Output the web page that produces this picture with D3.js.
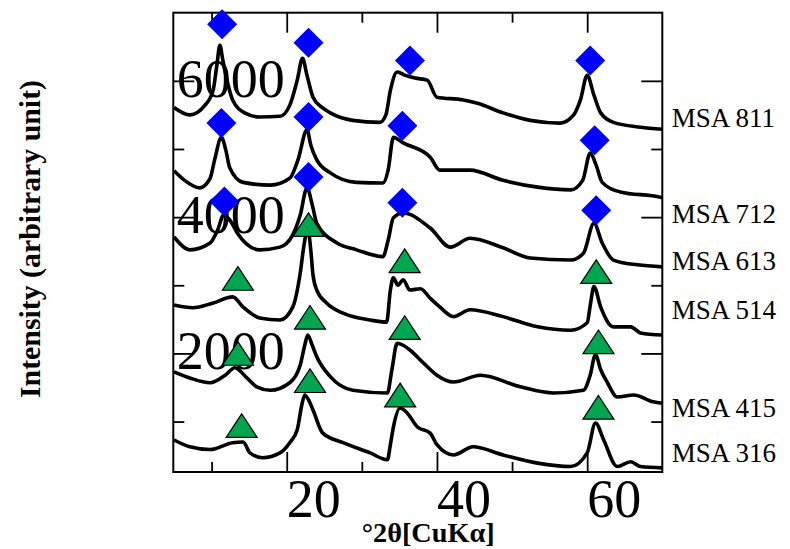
<!DOCTYPE html>
<html>
<head>
<meta charset="utf-8">
<script src="https://cdn.jsdelivr.net/npm/d3@7.9.0/dist/d3.min.js"></script>
<style>
  body { margin: 0; background: #fff; }
  svg { display: block; font-family: "Liberation Serif", "Times New Roman", serif; }
</style>
</head>
<body>
<svg id="chart" width="790" height="549"></svg>
<script>
// XRD patterns, 2θ (deg) vs intensity, stacked as in the figure
const samples = ['MSA 811', 'MSA 712', 'MSA 613', 'MSA 514', 'MSA 415', 'MSA 316'];

const msa811 = [[5.0,5610],[7.1,5500],[9.1,5640],[10.2,5860],[10.7,6230],[11.1,6520],[11.5,6300],[12.2,5940],[12.8,5720],[14.4,5530],[16.4,5470],[19.1,5480],[20.4,5640],[21.4,6010],[22.1,6330],[22.7,6080],[23.5,5760],[24.7,5610],[25.8,5530],[28.8,5420],[32.4,5390],[33.2,5500],[33.8,5860],[34.7,6130],[35.8,6080],[37.1,6040],[38.7,6010],[40.0,5760],[43.5,5720],[45.4,5670],[48.8,5530],[52.4,5420],[56.4,5380],[58.2,5500],[59.1,5720],[60.0,6080],[60.9,5790],[61.8,5530],[63.5,5390],[67.1,5320],[70.0,5290]];
const msa712 = [[5.0,4680],[6.4,4540],[8.4,4430],[9.8,4570],[10.4,4840],[11.3,5170],[11.9,4980],[12.4,4730],[14.2,4510],[17.8,4470],[20.4,4570],[21.5,4840],[22.7,5280],[23.2,5060],[24.0,4840],[25.8,4650],[29.3,4510],[32.8,4500],[33.5,4690],[34.2,5170],[35.5,5090],[39.1,4880],[40.4,4690],[44.4,4690],[48.8,4540],[53.4,4440],[57.8,4400],[59.4,4540],[60.4,4940],[61.2,4760],[62.0,4510],[64.4,4370],[69.8,4290],[70.0,4280]];
const msa613 = [[5.0,3710],[7.1,3520],[9.8,3620],[10.8,3810],[11.6,4030],[12.6,3930],[13.4,3770],[16.4,3520],[19.1,3560],[20.8,3740],[21.8,4030],[22.7,4430],[23.4,4180],[24.0,3910],[26.7,3620],[29.3,3520],[32.8,3420],[33.5,3660],[34.2,3990],[35.5,4060],[39.1,3840],[41.8,3560],[44.4,3690],[48.8,3550],[52.4,3400],[57.8,3370],[59.5,3470],[60.9,3910],[62.0,3620],[63.5,3370],[66.7,3300],[70.0,3270]];
const msa514 = [[5.0,2710],[7.5,2670],[10.2,2740],[12.8,2830],[14.2,2680],[16.4,2520],[19.1,2490],[20.8,2680],[21.8,3180],[22.3,3590],[22.8,3840],[23.2,3520],[23.5,3150],[24.0,2930],[25.3,2740],[27.5,2590],[31.1,2490],[33.3,2460],[33.8,2930],[34.2,3110],[34.8,3000],[35.5,3080],[36.4,2930],[37.8,2950],[39.1,2810],[40.4,2680],[42.2,2540],[44.4,2640],[48.8,2540],[53.4,2390],[57.8,2340],[60.0,2450],[60.4,2700],[60.9,2980],[61.8,2680],[63.5,2390],[65.8,2390],[67.1,2300],[70.0,2270]];
const msa415 = [[5.0,1730],[7.1,1640],[9.8,1570],[11.8,1680],[13.1,1790],[14.7,1640],[16.0,1510],[17.8,1460],[20.4,1570],[21.8,1830],[22.4,2120],[22.8,2270],[23.4,2120],[24.0,1950],[25.8,1660],[28.8,1460],[33.4,1420],[34.0,1760],[34.7,2150],[35.5,2120],[36.4,2050],[38.2,1860],[40.0,1680],[42.2,1580],[45.8,1680],[51.1,1510],[55.5,1420],[59.5,1460],[60.4,1680],[61.1,1980],[61.8,1760],[62.7,1570],[64.0,1360],[66.2,1390],[68.8,1290],[70.0,1270]];
const msa316 = [[5.0,730],[7.1,630],[9.8,590],[12.8,690],[14.2,700],[15.1,540],[16.8,470],[19.1,540],[20.4,690],[21.4,880],[22.0,1240],[22.4,1390],[22.9,1320],[23.5,1170],[24.8,830],[27.5,690],[31.1,540],[33.4,440],[33.8,660],[34.2,920],[35.1,1200],[36.0,1130],[37.4,920],[39.1,830],[40.0,660],[42.2,510],[44.8,630],[48.8,510],[53.4,390],[57.8,340],[60.0,540],[61.1,980],[62.2,730],[64.0,340],[65.8,410],[67.1,340],[70.0,320]];
const patterns = [msa811, msa712, msa613, msa514, msa415, msa316];

// where the sample names sit (intensity level of each label's baseline)
const labelLevels = [5320, 3910, 3220, 2510, 1070, 410];

// reflection markers [2θ, intensity]
const diamonds = [[11.4,6830],[22.9,6560],[36.4,6300],[60.4,6300],
                  [11.3,5380],[22.9,5470],[35.4,5340],[61.0,5130],
                  [11.7,4230],[22.9,4590],[35.4,4210],[61.2,4100]];
const triangles = [[13.5,3100],[22.9,3890],[35.7,3360],[61.2,3200],
                   [13.5,2000],[23.1,2530],[35.7,2380],[61.5,2170],
                   [14.0,940],[23.1,1600],[35.1,1390],[61.5,1210]];

const xMajor = [20, 40, 60];
const xMinor = [10, 30, 50];
const yMajor = [2000, 4000, 6000];
const yMinor = [1000, 3000, 5000];

const svg = d3.select('#chart');
const plotLeft = 173.3, plotRight = 662.3, plotTop = 12.7, plotBottom = 472;

const x = d3.scaleLinear().domain([4.9, 70]).range([plotLeft, plotRight]);
const y = d3.scaleLinear().domain([260, 7000]).range([plotBottom, plotTop]);

// big tick labels, drawn inside the frame like the original
svg.append('g')
  .selectAll('text')
  .data(yMajor)
  .join('text')
  .attr('x', plotLeft + 3.5)
  .attr('y', (d) => y(d) + 16)
  .attr('font-size', 54)
  .text((d) => d);

svg.append('g')
  .selectAll('text')
  .data(xMajor)
  .join('text')
  .attr('x', (d) => x(d))
  .attr('y', 516.7)
  .attr('font-size', 54)
  .text((d) => d);

// ticks pointing inward on all four sides
function ticks(axis, values, size, transform) {
  const g = svg.append('g')
    .attr('transform', transform)
    .call(axis.tickValues(values).tickSize(-size).tickFormat(''));
  g.select('.domain').remove();
  g.selectAll('line').attr('stroke', '#000').attr('stroke-width', 1.8);
}
ticks(d3.axisBottom(x), xMajor, 20, `translate(0,${plotBottom})`);
ticks(d3.axisBottom(x), xMinor, 10, `translate(0,${plotBottom})`);
ticks(d3.axisTop(x), xMajor, 20, `translate(0,${plotTop})`);
ticks(d3.axisTop(x), xMinor, 10, `translate(0,${plotTop})`);
ticks(d3.axisLeft(y), yMajor, 21, `translate(${plotLeft},0)`);
ticks(d3.axisLeft(y), yMinor, 11, `translate(${plotLeft},0)`);
ticks(d3.axisRight(y), yMajor, 21, `translate(${plotRight},0)`);
ticks(d3.axisRight(y), yMinor, 11, `translate(${plotRight},0)`);

const line = d3.line()
  .x((d) => x(d[0]))
  .y((d) => y(d[1]))
  .curve(d3.curveMonotoneX);

svg.append('g')
  .selectAll('path')
  .data(patterns)
  .join('path')
  .attr('d', line)
  .attr('fill', 'none')
  .attr('stroke', '#000')
  .attr('stroke-width', 3.6)
  .attr('stroke-linejoin', 'round');

svg.append('rect')
  .attr('x', plotLeft)
  .attr('y', plotTop)
  .attr('width', plotRight - plotLeft)
  .attr('height', plotBottom - plotTop)
  .attr('fill', 'none')
  .attr('stroke', '#000')
  .attr('stroke-width', 2);

svg.append('g')
  .selectAll('path')
  .data(diamonds)
  .join('path')
  .attr('transform', (d) => `translate(${x(d[0])},${y(d[1])})`)
  .attr('d', 'M0,-15L15,0L0,15L-15,0Z')
  .attr('fill', '#0000ff');

svg.append('g')
  .selectAll('path')
  .data(triangles)
  .join('path')
  .attr('transform', (d) => `translate(${x(d[0])},${y(d[1])})`)
  .attr('d', 'M0,-11.8L15.5,11.8L-15.5,11.8Z')
  .attr('fill', '#00a64f')
  .attr('stroke', '#000')
  .attr('stroke-width', 1.2);

svg.append('g')
  .selectAll('text')
  .data(samples)
  .join('text')
  .attr('x', 671.7)
  .attr('y', (_d, i) => y(labelLevels[i]))
  .attr('font-size', 27)
  .text((d) => d);

svg.append('text')
  .attr('x', 361.7)
  .attr('y', 542)
  .attr('font-size', 28)
  .attr('font-weight', 'bold')
  .attr('textLength', 133)
  .attr('lengthAdjust', 'spacingAndGlyphs')
  .text('°2θ[CuKα]');

svg.append('text')
  .attr('transform', 'translate(40,239) rotate(-90)')
  .attr('text-anchor', 'middle')
  .attr('font-size', 30)
  .attr('font-weight', 'bold')
  .attr('textLength', 318)
  .attr('lengthAdjust', 'spacingAndGlyphs')
  .text('Intensity (arbitrary unit)');
</script>
</body>
</html>
